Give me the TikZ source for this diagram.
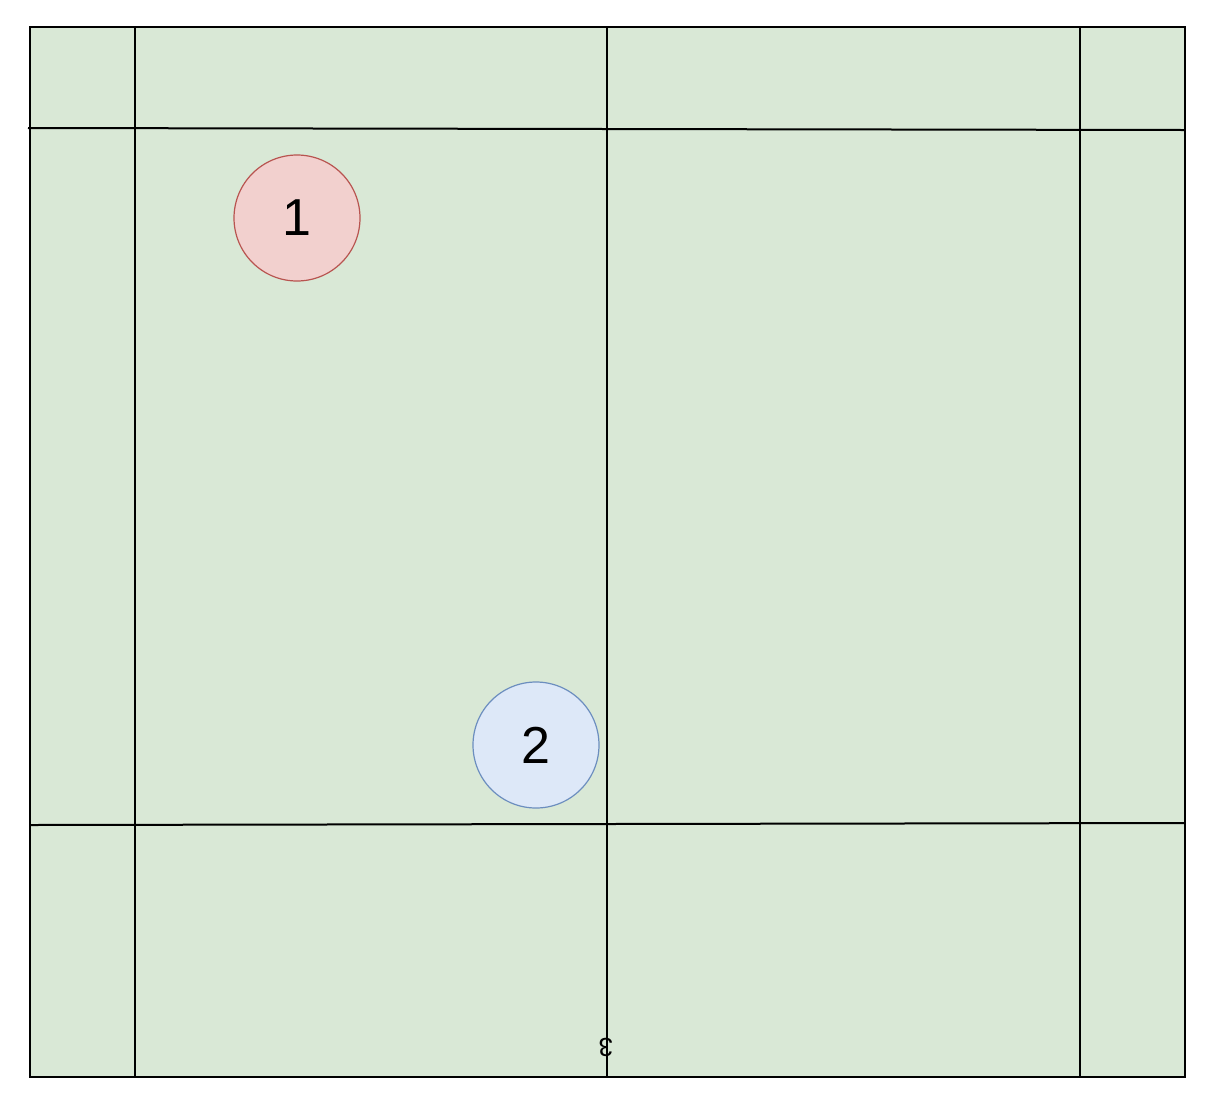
\documentclass[tikz,border=0pt]{standalone}
\usepackage{fontspec}
\setmainfont{Liberation Sans}
\usetikzlibrary{positioning}
\definecolor{fieldgreen}{HTML}{d9e8d6}
\definecolor{redfill}{HTML}{f2d0ce}
\definecolor{reddraw}{HTML}{b85450}
\definecolor{bluefill}{HTML}{dde8f8}
\definecolor{bluedraw}{HTML}{6c8ebf}
\begin{document}
\begin{tikzpicture}[
    x=0.5pt, y=-0.5pt,
    line/.style={draw=black, line width=1pt},
    player/.style={circle, minimum size=63pt, inner sep=0pt, line width=0.6pt, font=\fontsize{26}{30}\selectfont}
]
\useasboundingbox (0,0) rectangle (1216,1110);
% field
\fill[fieldgreen] (30,27) rectangle (1185,1077);
\draw[line] (30,27) rectangle (1185,1077);
% lines
\draw[line] (135,27) -- (135,1077);
\draw[line] (607,27) -- (607,1077);
\draw[line] (1080,27) -- (1080,1077);
\draw[line] (28,128) -- (1185,130);
\draw[line] (30,825) -- (1185,823);
% players
\node[player, fill=redfill, draw=reddraw] (p1) at (297,218) {1};
\node[player, fill=bluefill, draw=bluedraw] (p2) at (536,745) {2};
\node[font=\fontsize{13}{15}\selectfont, rotate=180, inner sep=0pt] (p3) at (606,1047) {3};
\end{tikzpicture}
\end{document}
